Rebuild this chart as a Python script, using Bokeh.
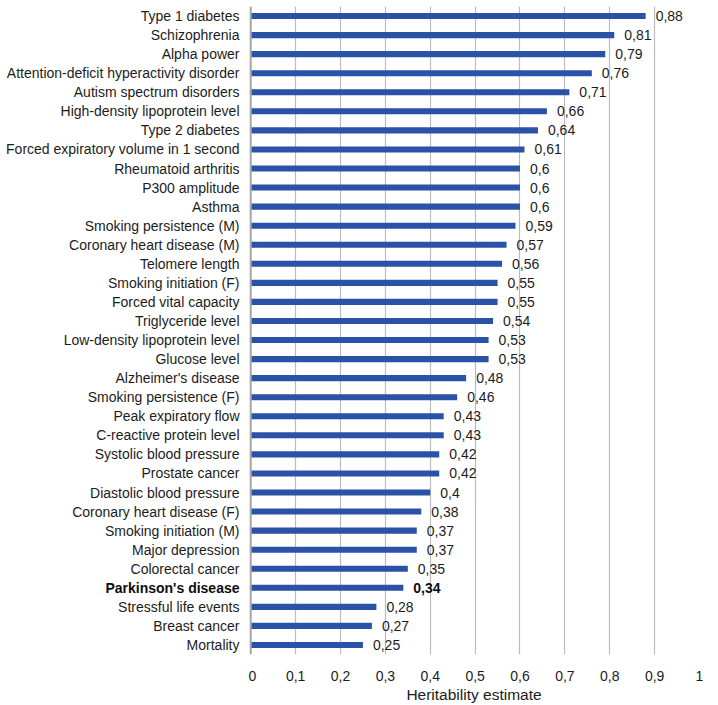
from bokeh.plotting import figure
from bokeh.layouts import row
from bokeh.models import ColumnDataSource, FactorRange, FixedTicker, CustomJSTickFormatter, Span
from bokeh.core.properties import value
from bokeh.embed import file_html
from bokeh.resources import INLINE

categories = [
    "Type 1 diabetes", "Schizophrenia", "Alpha power",
    "Attention-deficit hyperactivity disorder", "Autism spectrum disorders",
    "High-density lipoprotein level", "Type 2 diabetes",
    "Forced expiratory volume in 1 second", "Rheumatoid arthritis",
    "P300 amplitude", "Asthma", "Smoking persistence (M)",
    "Coronary heart disease (M)", "Telomere length", "Smoking initiation (F)",
    "Forced vital capacity", "Triglyceride level", "Low-density lipoprotein level",
    "Glucose level", "Alzheimer's disease", "Smoking persistence (F)",
    "Peak expiratory flow", "C-reactive protein level", "Systolic blood pressure",
    "Prostate cancer", "Diastolic blood pressure", "Coronary heart disease (F)",
    "Smoking initiation (M)", "Major depression", "Colorectal cancer",
    "Parkinson's disease", "Stressful life events", "Breast cancer", "Mortality",
]
heritability = [
    0.88, 0.81, 0.79, 0.76, 0.71, 0.66, 0.64, 0.61, 0.6, 0.6, 0.6, 0.59,
    0.57, 0.56, 0.55, 0.55, 0.54, 0.53, 0.53, 0.48, 0.46, 0.43, 0.43, 0.42,
    0.42, 0.4, 0.38, 0.37, 0.37, 0.35, 0.34, 0.28, 0.27, 0.25,
]
x_ticks = [0, 0.1, 0.2, 0.3, 0.4, 0.5, 0.6, 0.7, 0.8, 0.9, 1.0]
highlight = "Parkinson's disease"

FONT = "Liberation Sans"
FS = "14px"
HEIGHT = 705
TOP = 6
BOTTOM = 51

labels = [str(v).replace(".", ",") for v in heritability]
styles = ["bold" if c == highlight else "normal" for c in categories]
colors = ["#0d0d0d" if c == highlight else "#1c1c1c" for c in categories]

src = ColumnDataSource(dict(cat=categories, val=heritability, lab=labels,
                            style=styles, color=colors,
                            one=[1] * len(categories)))

yr = FactorRange(factors=list(reversed(categories)))

# ---- left panel: category labels ----
pl = figure(
    width=248, height=HEIGHT, y_range=yr, x_range=(0, 1),
    x_axis_location=None, y_axis_location=None,
    output_backend="svg", toolbar_location=None,
    min_border_left=0, min_border_right=0, min_border_top=TOP, min_border_bottom=BOTTOM,
)
pl.outline_line_color = None
pl.xgrid.grid_line_color = None
pl.ygrid.grid_line_color = None
pl.text(x="one", y="cat", text="cat", source=src, x_offset=-9,
        text_align="right", text_baseline="middle",
        text_font=value(FONT), text_font_size=FS,
        text_font_style="style", text_color="color")

# ---- main panel: bars ----
p = figure(
    width=464, height=HEIGHT, y_range=yr, x_range=(-0.005, 1.0),
    y_axis_location=None,
    output_backend="svg", toolbar_location=None,
    min_border_left=0, min_border_right=13, min_border_top=TOP, min_border_bottom=BOTTOM,
)
p.outline_line_color = None
p.background_fill_color = "white"

p.xgrid.ticker = FixedTicker(ticks=x_ticks)
p.xgrid.grid_line_color = "#bcbcbc"
p.xgrid.grid_line_width = 1.2
p.ygrid.grid_line_color = None

p.add_layout(Span(location=0, dimension="height", line_color="#a8a8a8", line_width=2))

p.hbar(y="cat", right="val", left=0, height=0.32, source=src,
       fill_color="#2a52a6", line_color=None)

p.text(x="val", y="cat", text="lab", source=src, x_offset=10,
       text_align="left", text_baseline="middle",
       text_font=value(FONT), text_font_size=FS,
       text_font_style="style", text_color="color")

xax = p.xaxis[0]
xax.ticker = FixedTicker(ticks=x_ticks)
xax.formatter = CustomJSTickFormatter(code="return (Math.round(tick*10)/10).toString().replace('.', ',');")
xax.axis_line_color = None
xax.major_tick_line_color = None
xax.minor_tick_line_color = None
xax.major_label_text_font = FONT
xax.major_label_text_font_size = FS
xax.major_label_text_color = "#1c1c1c"
xax.major_label_standoff = 10
xax.axis_label = "Heritability estimate"
xax.axis_label_text_font = FONT
xax.axis_label_text_font_size = "15.5px"
xax.axis_label_text_font_style = "normal"
xax.axis_label_text_color = "#1c1c1c"
xax.axis_label_standoff = 2

layout = row(pl, p)
open("out.html", "w").write(file_html(layout, INLINE))
